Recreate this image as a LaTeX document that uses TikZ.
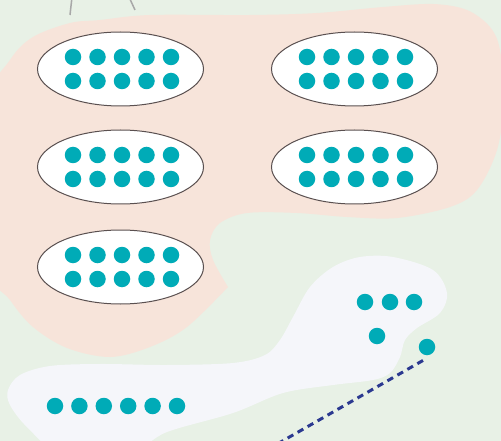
\documentclass[tikz,border=0pt]{standalone}
\usepackage{tikz}
\usetikzlibrary{shapes.geometric}
\definecolor{meadow}{HTML}{E8F1E6}
\definecolor{blush}{HTML}{F7E4DA}
\definecolor{mist}{HTML}{F5F6FA}
\definecolor{cyanb}{HTML}{00ABB7}
\definecolor{rim}{HTML}{5A5050}
\definecolor{navyb}{HTML}{2B3990}
\definecolor{wiregrey}{HTML}{A8A8A8}
\tikzset{
  pod/.style={ellipse,draw=rim,fill=white,line width=1pt,
    minimum width=166pt,minimum height=74pt,inner sep=0pt},
  bead/.style={circle,fill=cyanb,minimum size=16.5pt,inner sep=0pt},
  trail/.style={navyb,line width=3pt,dash pattern=on 6.5pt off 5pt},
  wire/.style={wiregrey,line width=1.5pt},
}

\begin{document}
\begin{tikzpicture}[x=1pt,y=-1pt]
  \useasboundingbox (0,0) rectangle (501,441);
  \clip (0,0) rectangle (501,441);
  \fill[meadow] (0,0) rectangle (501,441);
  % pink region round the five groups
  \fill[blush] plot[smooth,tension=0.55] coordinates {(228,287) (187,327)
    (150,347) (110,357) (67,348) (33,327) (10,300) (-15,260) (-15,110)
    (10,60) (33,37) (70,23) (100,20) (150,15) (250,15) (317,13) (383,7)
    (433,4) (467,10) (490,27) (500,50) (504,100) (497,150) (477,190)
    (450,207) (397,218) (347,217) (297,213) (247,213) (220,223) (210,240)
    (213,260) (228,287)} -- cycle;
  % pale region round the loose dots
  \fill[mist] plot[smooth cycle,tension=0.55] coordinates {(360,257)
    (393,257) (433,270) (447,293) (440,313) (417,328) (405,340) (400,357)
    (390,373) (373,380) (333,385) (283,393) (233,413) (167,432) (130,452)
    (60,452) (27,427) (10,405) (8,390) (20,375) (50,366) (100,364)
    (167,365) (233,363) (265,355) (280,340) (293,317) (310,287) (333,267)};
  % wires coming in from above
  \coordinate (wA1) at (72,-3);
  \coordinate (wA2) at (70,15);
  \coordinate (wB1) at (129,-3);
  \coordinate (wB2) at (135,10);
  \draw[wire] (wA1) -- (wA2);
  \draw[wire] (wB1) -- (wB2);
  % groups of ten
  \foreach \nm/\cx/\cy in {pA/120.5/69,pB/354.5/69,pC/120.5/167,
      pD/354.5/167,pE/120.5/267} {
    \node[pod] (\nm) at (\cx,\cy) {};
    \foreach \r in {1,2}
      \foreach \c in {1,...,5}
        \node[bead] (\nm-\r-\c)
          at ([shift={({(\c-3)*24.5+1.5},{(\r-1.5)*24})}]\nm.center) {};
  }
  % loose dots
  \node[bead] (bA) at (365,302) {};
  \node[bead] (bB) at (390,302) {};
  \node[bead] (bC) at (414,302) {};
  \node[bead] (bD) at (377,336) {};
  \node[bead] (bE) at (427,347) {};
  \foreach \i in {0,...,5}
    \node[bead] (row\i) at ({55+\i*24.4},406) {};
  \coordinate (tail) at (279,443);
  \draw[trail] ([shift={(-4,5)}]bE.south) -- (tail);
\end{tikzpicture}
\end{document}
